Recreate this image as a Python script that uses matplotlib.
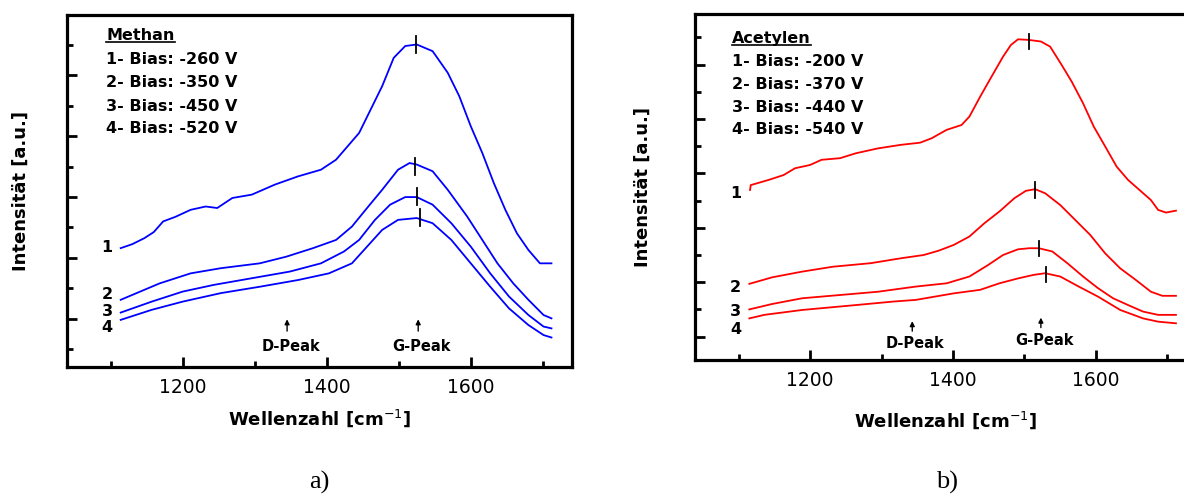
import matplotlib
matplotlib.use('Agg')
import matplotlib.pyplot as plt
from matplotlib.lines import Line2D

plt.rcParams['font.family'] = ['DejaVu Sans']

# ---- Daten: Methan (links) ----
m1_x = [1114, 1130, 1147, 1160, 1173, 1190, 1211, 1232, 1248, 1269, 1296, 1328, 1360, 1392, 1413, 1429, 1445,
        1461, 1477, 1493, 1509, 1525, 1547, 1568, 1584, 1600, 1616, 1632, 1648, 1664, 1680, 1696, 1712]
m1_y = [3.32, 3.45, 3.65, 3.85, 4.20, 4.35, 4.58, 4.69, 4.64, 4.97, 5.08, 5.41, 5.68, 5.90, 6.23, 6.67, 7.11,
        7.88, 8.65, 9.58, 9.97, 10.02, 9.80, 9.09, 8.32, 7.33, 6.45, 5.46, 4.58, 3.81, 3.26, 2.82, 2.82]
m2_x = [1114, 1136, 1168, 1211, 1253, 1307, 1344, 1381, 1413, 1435, 1456, 1477, 1499, 1515, 1525, 1547,
        1568, 1595, 1616, 1637, 1659, 1680, 1701, 1712]
m2_y = [1.62, 1.84, 2.16, 2.49, 2.66, 2.82, 3.04, 3.32, 3.59, 4.03, 4.64, 5.24, 5.90, 6.12, 6.07, 5.85,
        5.24, 4.36, 3.59, 2.82, 2.16, 1.62, 1.12, 1.01]
m3_x = [1114, 1157, 1200, 1243, 1296, 1349, 1392, 1424, 1445, 1467, 1488, 1509, 1525, 1547, 1573, 1600,
        1627, 1653, 1680, 1701, 1712]
m3_y = [1.20, 1.56, 1.89, 2.11, 2.33, 2.55, 2.82, 3.21, 3.59, 4.25, 4.75, 5.00, 5.00, 4.75, 4.14, 3.37,
        2.49, 1.73, 1.12, 0.74, 0.68]
m4_x = [1114, 1157, 1200, 1253, 1307, 1360, 1403, 1435, 1456, 1477, 1499, 1525, 1547, 1573, 1600, 1627,
        1653, 1680, 1701, 1712]
m4_y = [0.96, 1.29, 1.56, 1.84, 2.05, 2.27, 2.49, 2.82, 3.37, 3.92, 4.25, 4.31, 4.14, 3.59, 2.82, 2.05,
        1.34, 0.79, 0.46, 0.38]
m_peak_x = [1524, 1523, 1525, 1529]
m_peak_y = [10.02, 6.00, 5.02, 4.33]
m_bias = ['1- Bias: -260 V', '2- Bias: -350 V', '3- Bias: -450 V', '4- Bias: -520 V']
m_num_y = [3.35, 1.78, 1.25, 0.71]

# ---- Daten: Acetylen (rechts) ----
a1_x = [1116, 1117, 1142, 1163, 1179, 1200, 1216, 1242, 1264, 1295, 1327, 1354, 1370, 1391, 1412, 1423,
        1438, 1454, 1470, 1481, 1491, 1505, 1523, 1536, 1552, 1566, 1582, 1597, 1613, 1629, 1645, 1661,
        1677, 1687, 1698, 1712]
a1_y = [5.39, 5.57, 5.76, 5.94, 6.19, 6.31, 6.50, 6.56, 6.74, 6.92, 7.05, 7.13, 7.29, 7.60, 7.78, 8.09,
        8.82, 9.56, 10.29, 10.72, 10.93, 10.91, 10.85, 10.66, 9.99, 9.38, 8.58, 7.72, 6.99, 6.25, 5.76, 5.39,
        5.02, 4.66, 4.56, 4.63]
a2_x = [1115, 1147, 1189, 1232, 1285, 1327, 1359, 1380, 1401, 1423, 1444, 1465, 1486, 1502, 1515, 1529,
        1550, 1571, 1592, 1613, 1634, 1656, 1677, 1693, 1712]
a2_y = [1.94, 2.18, 2.39, 2.57, 2.70, 2.88, 3.00, 3.16, 3.37, 3.68, 4.17, 4.60, 5.09, 5.36, 5.42, 5.27,
        4.84, 4.29, 3.74, 3.06, 2.51, 2.08, 1.65, 1.50, 1.50]
a3_x = [1115, 1147, 1189, 1242, 1295, 1348, 1391, 1423, 1449, 1470, 1491, 1507, 1520, 1539, 1560, 1582,
        1603, 1624, 1645, 1666, 1687, 1712]
a3_y = [1.00, 1.20, 1.41, 1.53, 1.65, 1.84, 1.96, 2.21, 2.63, 3.00, 3.21, 3.25, 3.25, 3.13, 2.70, 2.21,
        1.78, 1.41, 1.16, 0.92, 0.80, 0.80]
a4_x = [1115, 1136, 1189, 1264, 1317, 1348, 1401, 1438, 1465, 1491, 1513, 1529, 1550, 1576, 1603, 1634,
        1666, 1687, 1712]
a4_y = [0.67, 0.80, 0.98, 1.16, 1.29, 1.35, 1.59, 1.72, 1.96, 2.14, 2.27, 2.33, 2.21, 1.84, 1.47, 0.98,
        0.67, 0.55, 0.49]
a_peak_x = [1506, 1515, 1520, 1530]
a_peak_y = [10.85, 5.39, 3.25, 2.27]
a_bias = ['1- Bias: -200 V', '2- Bias: -370 V', '3- Bias: -440 V', '4- Bias: -540 V']
a_num_y = [5.27, 1.81, 0.92, 0.25]

x_ticks = [1200, 1400, 1600]
x_minor = [1100, 1300, 1500, 1700]

fig = plt.figure(figsize=(11.84, 4.95), dpi=100)
ax1 = fig.add_axes([0.0563, 0.258, 0.4265, 0.7123])
ax2 = fig.add_axes([0.587, 0.2727, 0.4231, 0.699])


def style(ax, ylim, ymaj, ymin, ylab_x):
    ax.set_xlim(1039, 1740)
    ax.set_ylim(*ylim)
    for s in ax.spines.values():
        s.set_linewidth(2.3)
    ax.set_xticks(x_ticks)
    ax.set_xticks(x_minor, minor=True)
    ax.set_yticks(ymaj)
    ax.set_yticks(ymin, minor=True)
    ax.set_yticklabels([])
    ax.tick_params(which='both', direction='in', width=2, top=False, right=False)
    ax.tick_params(which='major', length=7)
    ax.tick_params(which='minor', length=4.5)
    ax.tick_params(axis='x', labelsize=13.5, pad=8)
    ax.set_xlabel('Wellenzahl [cm$^{-1}$]', fontsize=13, fontweight='bold', va='center')
    ax.set_ylabel('Intensität [a.u.]', fontsize=13, fontweight='bold', va='center')
    ax.yaxis.set_label_coords(ylab_x, 0.5)


style(ax1, (-0.6, 11.0), [1, 3, 5, 7, 9], [0, 2, 4, 6, 8, 10], -0.0905)
ax1.xaxis.set_label_coords(0.5, -0.144)
style(ax2, (-0.86, 11.86), [0, 2, 4, 6, 8, 10], [1, 3, 5, 7, 9, 11], -0.104)
ax2.xaxis.set_label_coords(0.5, -0.175)

for xs, ys in [(m1_x, m1_y), (m2_x, m2_y), (m3_x, m3_y), (m4_x, m4_y)]:
    ax1.plot(xs, ys, color='#0000ff', lw=1.3)
for xs, ys in [(a1_x, a1_y), (a2_x, a2_y), (a3_x, a3_y), (a4_x, a4_y)]:
    ax2.plot(xs, ys, color='#ff0000', lw=1.3)

# Peak-Markierungen
for px, py in zip(m_peak_x, m_peak_y):
    ax1.plot([px, px], [py - 0.28, py + 0.28], color='black', lw=1.3)
for px, py in zip(a_peak_x, a_peak_y):
    ax2.plot([px, px], [py - 0.28, py + 0.28], color='black', lw=1.3)

# Kurvennummern
for i, ny in enumerate(m_num_y):
    ax1.text(1095, ny, str(i + 1), fontsize=11.5, fontweight='bold', ha='center', va='center')
for i, ny in enumerate(a_num_y):
    ax2.text(1096, ny, str(i + 1), fontsize=11.5, fontweight='bold', ha='center', va='center')

# D-/G-Peak Pfeile
arrow = dict(arrowstyle='-|>', lw=1, color='black', mutation_scale=7)
ax1.annotate('', xy=(1345, 1.07), xytext=(1345, 0.5), arrowprops=arrow)
ax1.annotate('', xy=(1527, 1.07), xytext=(1527, 0.5), arrowprops=arrow)
ax1.text(1350, 0.08, 'D-Peak', fontsize=10.5, fontweight='bold', ha='center', va='center')
ax1.text(1531, 0.10, 'G-Peak', fontsize=10.5, fontweight='bold', ha='center', va='center')
ax2.annotate('', xy=(1343, 0.67), xytext=(1343, 0.1), arrowprops=arrow)
ax2.annotate('', xy=(1523, 0.80), xytext=(1523, 0.23), arrowprops=arrow)
ax2.text(1347, -0.25, 'D-Peak', fontsize=10.5, fontweight='bold', ha='center', va='center')
ax2.text(1528, -0.15, 'G-Peak', fontsize=10.5, fontweight='bold', ha='center', va='center')

# Legende
t1 = ax1.text(1094, 10.18, 'Methan', fontsize=11.5, fontweight='bold', ha='left', va='baseline')
for lab, yy in zip(m_bias, [9.51, 8.77, 7.97, 7.24]):
    ax1.text(1094, yy, lab, fontsize=11.5, fontweight='bold', ha='left', va='center')
t2 = ax2.text(1091, 10.80, 'Acetylen', fontsize=11.5, fontweight='bold', ha='left', va='baseline')
for lab, yy in zip(a_bias, [10.11, 9.28, 8.41, 7.60]):
    ax2.text(1091, yy, lab, fontsize=11.5, fontweight='bold', ha='left', va='center')

# Unterstreichung
fig.canvas.draw()
r = fig.canvas.get_renderer()
for t, ax in [(t1, ax1), (t2, ax2)]:
    bb = t.get_window_extent(r)
    bx, by = ax.transData.transform(t.get_position())
    yl = (by - 2.5) / fig.bbox.height
    fig.add_artist(Line2D([bb.x0 / fig.bbox.width, bb.x1 / fig.bbox.width], [yl, yl],
                          color='black', lw=1.2))

fig.text(319 / 1184, 1 - 482 / 495, 'a)', fontsize=19, family='Liberation Serif', ha='center', va='center')
fig.text(947 / 1184, 1 - 482 / 495, 'b)', fontsize=19, family='Liberation Serif', ha='center', va='center')

fig.savefig('out.png', dpi=100)
